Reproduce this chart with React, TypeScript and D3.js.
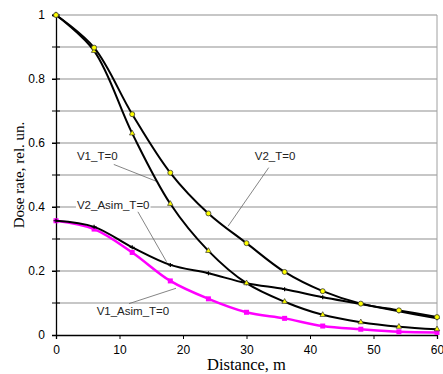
import React, { useRef, useEffect } from 'react';
import * as d3 from 'd3';

const distances = [0, 6, 12, 18, 24, 30, 36, 42, 48, 54, 60];
const v2T0 = [1, 0.898, 0.69, 0.507, 0.38, 0.287, 0.197, 0.137, 0.098, 0.077, 0.056];
const v1T0 = [1, 0.888, 0.63, 0.41, 0.263, 0.162, 0.104, 0.063, 0.04, 0.026, 0.018];
const v2AsimT0 = [0.357, 0.338, 0.274, 0.219, 0.193, 0.162, 0.143, 0.118, 0.097, 0.074, 0.052];
const v1AsimT0 = [0.357, 0.331, 0.258, 0.169, 0.113, 0.071, 0.052, 0.028, 0.018, 0.01, 0.008];
const yTickLabels = [0, 0.2, 0.4, 0.6, 0.8, 1];
const xTickLabels = [0, 10, 20, 30, 40, 50, 60];

// callout labels: text position and leader line end, in data units
const callouts = [
  { text: 'V1_T=0', tx: 3.3, ty: 0.548, lx0: 9.1, ly0: 0.533, lx1: 16.1, ly1: 0.478 },
  { text: 'V2_T=0', tx: 31.3, ty: 0.548, lx0: 33.5, ly0: 0.523, lx1: 27.1, ly1: 0.34 },
  { text: 'V2_Asim_T=0', tx: 3.3, ty: 0.393, lx0: 12.9, ly0: 0.385, lx1: 17.4, ly1: 0.229 },
  { text: 'V1_Asim_T=0', tx: 6.4, ty: 0.062, lx0: 11.5, ly0: 0.098, lx1: 18.9, ly1: 0.146 },
];

export default function App() {
  const svgRef = useRef<SVGSVGElement>(null);

  useEffect(() => {
    const width = 443;
    const height = 374;
    const margin = { left: 56, right: 6, top: 15, bottom: 39 };

    const svg = d3.select(svgRef.current).attr('width', width).attr('height', height);
    svg.selectAll('*').remove();

    const x = d3.scaleLinear().domain([0, 60]).range([margin.left, width - margin.right]);
    const y = d3.scaleLinear().domain([0, 1]).range([height - margin.bottom, margin.top]);

    const tenths = d3.range(1, 11).map(d => d / 10);

    // gridlines every 0.1
    svg.append('g')
      .selectAll('line')
      .data(tenths)
      .enter()
      .append('line')
      .attr('x1', x(0))
      .attr('x2', x(60))
      .attr('y1', d => y(d))
      .attr('y2', d => y(d))
      .attr('stroke', '#8f8f8f')
      .attr('stroke-width', 1);

    // right border
    svg.append('line')
      .attr('x1', x(60)).attr('x2', x(60))
      .attr('y1', y(1)).attr('y2', y(0))
      .attr('stroke', '#a0a0a0');

    // minor cross ticks on y axis
    svg.append('g')
      .selectAll('line')
      .data(tenths)
      .enter()
      .append('line')
      .attr('x1', x(0) - 4)
      .attr('x2', x(0) + 4)
      .attr('y1', d => y(d))
      .attr('y2', d => y(d))
      .attr('stroke', '#000');

    // axes
    const yAxis = svg.append('g')
      .attr('transform', `translate(${x(0)},0)`)
      .call(d3.axisLeft(y).tickValues(yTickLabels).tickSize(4).tickPadding(7).tickFormat(d => String(d)));
    const xAxis = svg.append('g')
      .attr('transform', `translate(0,${y(0)})`)
      .call(d3.axisBottom(x).tickValues(xTickLabels).tickSize(4).tickPadding(6));
    [yAxis, xAxis].forEach(g => {
      g.select('.domain').attr('stroke', '#000').attr('stroke-width', 1.3);
      g.selectAll('.tick line').attr('stroke', '#000');
      g.selectAll('.tick text')
        .attr('font-family', 'Arial, "Liberation Sans", sans-serif')
        .attr('font-size', 12)
        .attr('fill', '#000');
    });

    // callouts
    const cg = svg.append('g');
    callouts.forEach(c => {
      cg.append('line')
        .attr('x1', x(c.lx0)).attr('y1', y(c.ly0))
        .attr('x2', x(c.lx1)).attr('y2', y(c.ly1))
        .attr('stroke', '#666').attr('stroke-width', 0.8);
      const t = cg.append('text')
        .attr('x', x(c.tx)).attr('y', y(c.ty))
        .attr('font-family', 'Arial, "Liberation Sans", sans-serif')
        .attr('font-size', 11.5)
        .attr('fill', '#222')
        .text(c.text);
      const bb = (t.node() as SVGTextElement).getBBox();
      cg.insert('rect', 'text')
        .attr('x', bb.x - 1).attr('y', bb.y)
        .attr('width', bb.width + 2).attr('height', bb.height)
        .attr('fill', '#fff');
    });

    const line = d3.line<number>()
      .x((d, i) => x(distances[i]))
      .y(d => y(d))
      .curve(d3.curveCatmullRom.alpha(0.5));

    const series = [
      { values: v1AsimT0, color: '#ff00ff', width: 2.5, marker: 'square' },
      { values: v2AsimT0, color: '#000', width: 2, marker: 'plus' },
      { values: v1T0, color: '#000', width: 2, marker: 'triangle' },
      { values: v2T0, color: '#000', width: 2, marker: 'circle' },
    ];

    series.forEach(s => {
      svg.append('path')
        .datum(s.values)
        .attr('d', line)
        .attr('fill', 'none')
        .attr('stroke', s.color)
        .attr('stroke-width', s.width);

      const g = svg.append('g');
      s.values.forEach((v, i) => {
        const px = x(distances[i]);
        const py = y(v);
        if (s.marker === 'square') {
          g.append('rect').attr('x', px - 2.5).attr('y', py - 2.5).attr('width', 5).attr('height', 5)
            .attr('fill', '#ff00ff');
        } else if (s.marker === 'plus') {
          g.append('path').attr('d', `M${px - 2.5},${py}H${px + 2.5}M${px},${py - 2}V${py + 2}`)
            .attr('stroke', '#000').attr('stroke-width', 1.2);
        } else if (s.marker === 'triangle') {
          g.append('path').attr('d', d3.symbol(d3.symbolTriangle, 13)())
            .attr('transform', `translate(${px},${py})`)
            .attr('fill', '#ffff00').attr('stroke', '#333').attr('stroke-width', 0.7);
        } else {
          g.append('circle').attr('cx', px).attr('cy', py).attr('r', 2.5)
            .attr('fill', '#ffff00').attr('stroke', '#333').attr('stroke-width', 0.8);
        }
      });
    });

    // axis titles
    svg.append('text')
      .attr('x', x(30)).attr('y', 370)
      .attr('text-anchor', 'middle')
      .attr('font-family', '"Times New Roman", "Liberation Serif", serif')
      .attr('font-size', 16.5)
      .attr('fill', '#000')
      .text('Distance, m');
    svg.append('text')
      .attr('transform', `translate(24,${y(0.5)}) rotate(-90)`)
      .attr('text-anchor', 'middle')
      .attr('font-family', '"Times New Roman", "Liberation Serif", serif')
      .attr('font-size', 15)
      .attr('fill', '#000')
      .text('Dose rate, rel. un.');
  }, []);

  return (
    <div style={{ position: 'absolute', left: 0, top: 0, width: 443, height: 374, background: '#fff' }}>
      <svg ref={svgRef} />
    </div>
  );
}
